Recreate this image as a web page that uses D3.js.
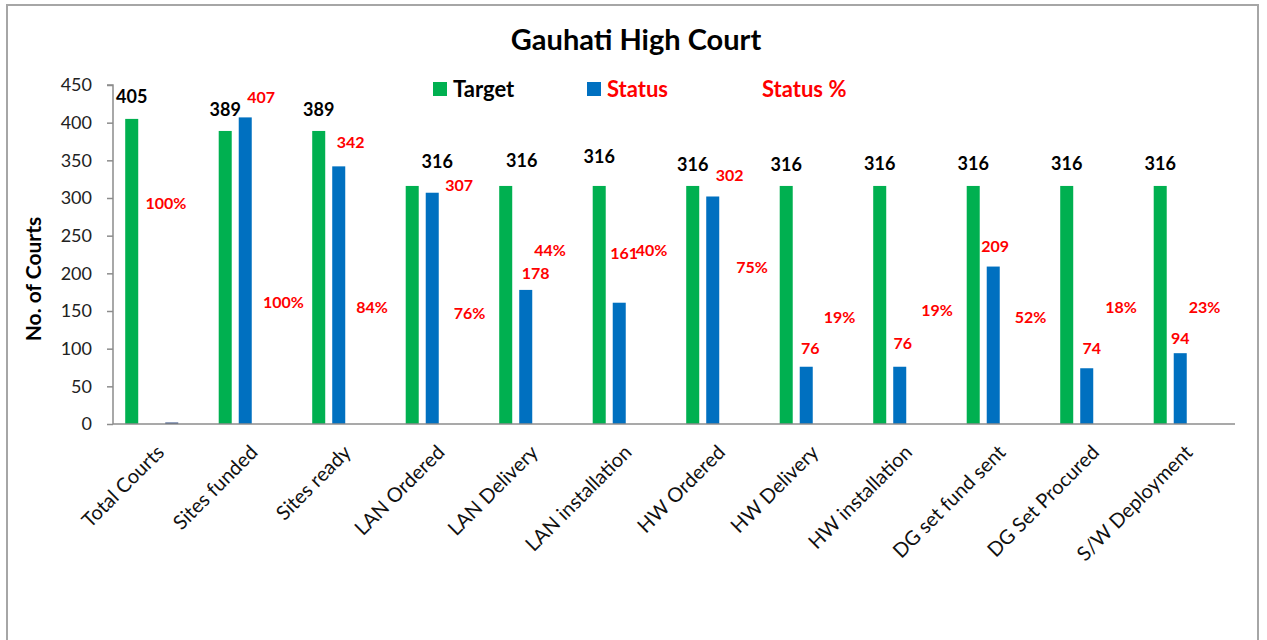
<!DOCTYPE html>
<html>
<head>
<meta charset="utf-8">
<script src="https://cdn.jsdelivr.net/npm/d3@7"></script>
<style>
  body { margin: 0; background: #fff; }
  svg { display: block; font-family: Lato, "Open Sans", sans-serif; }
</style>
</head>
<body>
<div id="chart"></div>
<script>
// data
const categories = ["Total Courts", "Sites funded", "Sites ready", "LAN Ordered", "LAN Delivery",
  "LAN installation", "HW Ordered", "HW Delivery", "HW installation", "DG set fund sent",
  "DG Set Procured", "S/W Deployment"];
const target = [405, 389, 389, 316, 316, 316, 316, 316, 316, 316, 316, 316];
const statusVals = [null, 407, 342, 307, 178, 161, 302, 76, 76, 209, 74, 94];
const statusPct = ["100%", "100%", "84%", "76%", "44%", "40%", "75%", "19%", "19%", "52%", "18%", "23%"];
const statusPctBar = [2, 0, 0, 0, 0, 0, 0, 0, 0, 0, 0, 0];
const yTicks = [0, 50, 100, 150, 200, 250, 300, 350, 400, 450];

// hand placed label spots (Excel labels were dragged around)
const targetLabelShift = [0, 0, 0, 25, 16, 0, 0, 0, 0, 0, 0, 0];          // px right of green bar
const targetLabelLift = [22, 21, 21, 24, 25, 29, 21, 21, 22, 22, 22, 22];  // px above green bar
const statusLabelShift = [0, 16, 12, 27, 10, 5, 17, 4, 3, 2, 5, 0];      // px right of blue bar
const statusLabelAt = [0, 433, 374, 317, 200, 226, 330, 101, 107, 236, 101, 113]; // axis units
const pctLabelShift = [53, 77, 72, 76, 63, 71, 78, 72, 76, 76, 73, 63];  // px from band start
const pctLabelAt = [293, 162, 155, 147, 230, 230, 208, 141, 151, 141, 155, 155];

const green = "#00b050", blue = "#0070c0", red = "#ff0000";

const W = 1267, H = 640;
const svg = d3.select("#chart").append("svg")
  .attr("width", W).attr("height", H);

svg.append("rect")
  .attr("x", 7).attr("y", 5).attr("width", 1251).attr("height", 700)
  .attr("fill", "#fff").attr("stroke", "#a6a6a6").attr("stroke-width", 2);

const plotLeft = 113, plotRight = 1235, plotTop = 85, plotBottom = 424;

const x0 = d3.scaleBand().domain(categories).range([plotLeft, plotRight]).padding(0);
const x1 = d3.scaleBand().domain(["target", "status", "pct", "none"])
  .range([2, x0.bandwidth() + 2]).paddingInner(0.35).paddingOuter(0.51);
const y = d3.scaleLinear().domain([0, 450]).range([plotBottom, plotTop]);

// title
svg.append("text")
  .attr("x", 636).attr("y", 50)
  .attr("text-anchor", "middle")
  .style("font-size", "29px").style("font-weight", "bold")
  .text("Gauhati High Court");

// y axis
const yAxis = svg.append("g")
  .attr("transform", `translate(${plotLeft},0)`)
  .call(d3.axisLeft(y).tickValues(yTicks).tickSize(6).tickPadding(15));
yAxis.selectAll("path, line").attr("stroke", "#8c8c8c").attr("stroke-width", 1.5);
yAxis.select(".domain").attr("d", `M-6,${plotTop}H0V${plotBottom}`);
yAxis.selectAll("text").style("font-size", "18px").style("font-family", "Lato").attr("fill", "#222");

svg.append("text")
  .attr("transform", `translate(41,${(218 + 340) / 2}) rotate(-90)`)
  .attr("text-anchor", "middle")
  .style("font-size", "21px").style("font-weight", "bold")
  .text("No. of Courts");

// bars
const groups = svg.selectAll("g.cat")
  .data(categories)
  .join("g")
  .attr("class", "cat")
  .attr("transform", d => `translate(${x0(d)},0)`);

groups.append("rect")
  .attr("x", x1("target"))
  .attr("width", x1.bandwidth())
  .attr("y", (d, i) => y(target[i]))
  .attr("height", (d, i) => plotBottom - y(target[i]))
  .attr("fill", green);

const idx = d => categories.indexOf(d);

groups.filter((d, i) => statusVals[i] != null).append("rect")
  .attr("x", x1("status"))
  .attr("width", x1.bandwidth())
  .attr("y", d => y(statusVals[idx(d)]))
  .attr("height", d => plotBottom - y(statusVals[idx(d)]))
  .attr("fill", blue);

groups.filter((d, i) => statusPctBar[i] > 0).append("rect")
  .attr("x", x1("pct"))
  .attr("width", x1.bandwidth())
  .attr("y", d => y(statusPctBar[idx(d)]))
  .attr("height", d => plotBottom - y(statusPctBar[idx(d)]))
  .attr("fill", "#2e4a80");

// x axis line
svg.append("line")
  .attr("x1", plotLeft).attr("x2", plotRight)
  .attr("y1", plotBottom).attr("y2", plotBottom)
  .attr("stroke", "#8c8c8c").attr("stroke-width", 1.5);

// category labels
svg.selectAll("text.xlab")
  .data(categories)
  .join("text")
  .attr("class", "xlab")
  .attr("transform", d => `translate(${x0(d) + x0.bandwidth() / 2 - 5},${plotBottom + 19}) rotate(-45)`)
  .attr("text-anchor", "end")
  .attr("dy", "0.75em")
  .style("font-size", "20px")
  .attr("fill", "#111")
  .text(d => d);

// target labels
groups.append("text")
  .attr("x", (d, i) => x1("target") + x1.bandwidth() / 2 + targetLabelShift[i])
  .attr("y", (d, i) => y(target[i]) - targetLabelLift[i])
  .attr("dy", "0.35em")
  .attr("text-anchor", "middle")
  .style("font-size", "18px").style("font-weight", "bold")
  .text((d, i) => target[i]);

// status labels
groups.filter((d, i) => statusVals[i] != null).append("text")
  .attr("x", d => x1("status") + x1.bandwidth() / 2 + statusLabelShift[idx(d)])
  .attr("y", d => y(statusLabelAt[idx(d)]))
  .attr("dy", "0.35em")
  .attr("text-anchor", "middle")
  .attr("fill", red)
  .style("font-size", "16px").style("font-weight", "bold")
  .text(d => statusVals[idx(d)]);

// status % labels
groups.append("text")
  .attr("x", (d, i) => pctLabelShift[i])
  .attr("y", (d, i) => y(pctLabelAt[i]))
  .attr("dy", "0.35em")
  .attr("text-anchor", "middle")
  .attr("fill", red)
  .style("font-size", "16px").style("font-weight", "bold")
  .text((d, i) => statusPct[i]);

// legend
const legend = [
  { label: "Target", color: green, text: "#000", x: 433 },
  { label: "Status", color: blue, text: red, x: 587 },
  { label: "Status %", color: null, text: red, x: 742 }
];
const lg = svg.selectAll("g.legend").data(legend).join("g")
  .attr("class", "legend")
  .attr("transform", d => `translate(${d.x},82)`);
lg.filter(d => d.color).append("rect")
  .attr("width", 14).attr("height", 14)
  .attr("fill", d => d.color);
lg.append("text")
  .attr("x", 20).attr("y", 7).attr("dy", "0.35em")
  .attr("fill", d => d.text)
  .style("font-size", "22px").style("font-weight", "bold")
  .text(d => d.label);
</script>
</body>
</html>
